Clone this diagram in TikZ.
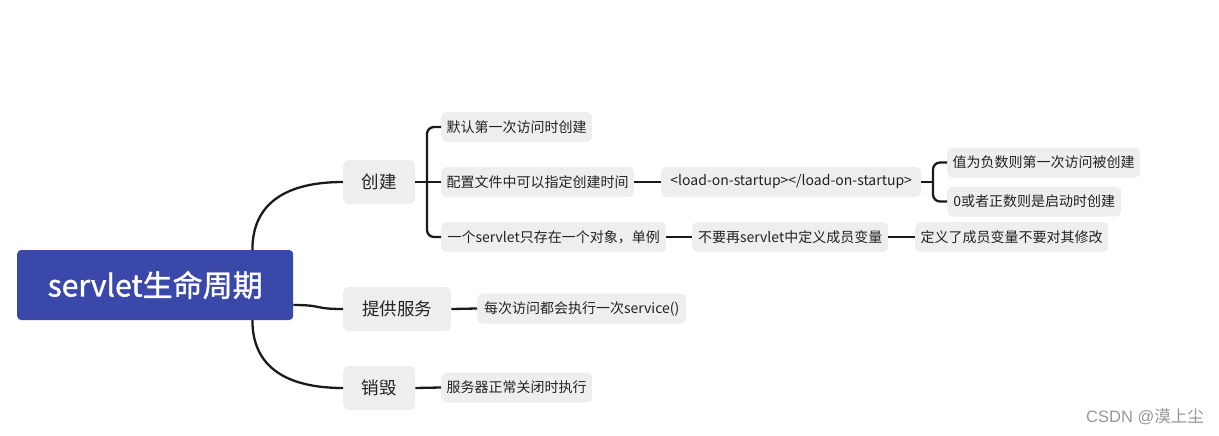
\documentclass[tikz,border=0pt]{standalone}
\usepackage{fontspec}
\newfontfamily\cjk{Noto Sans CJK SC}
\newfontfamily\cjkheavy{Noto Sans CJK SC}[FakeBold=1.2]
\newfontfamily\wmsans{Liberation Sans}
\definecolor{rootblue}{RGB}{58,72,170}
\definecolor{boxgray}{RGB}{238,238,238}
\definecolor{txt}{RGB}{34,34,34}
\definecolor{conncol}{RGB}{26,26,26}
\definecolor{wm}{RGB}{150,150,150}
\tikzset{
  rootbox/.style={fill=rootblue, rounded corners=4pt, inner sep=0pt, anchor=west,
    minimum height=70pt, text=white, font=\cjkheavy\fontsize{30}{34}\selectfont},
  mainbox/.style={fill=boxgray, rounded corners=6pt, inner sep=0pt, anchor=west,
    minimum height=44pt, text=txt, font=\cjk\fontsize{17.5}{20}\selectfont},
  leafbox/.style={fill=boxgray, rounded corners=6pt, inner sep=0pt, anchor=west,
    minimum height=30pt, text=txt, font=\cjk\fontsize{14}{16}\selectfont},
  conn/.style={draw=conncol, line width=2.3pt},
  bracket/.style={conn, rounded corners=7pt}
}
\begin{document}
\begin{tikzpicture}[x=1pt,y=-1pt]
\useasboundingbox (0,0) rectangle (1219,436);
% root
\node[rootbox, minimum width=276pt] (root) at (17,285) {servlet生命周期};
% level 1
\node[mainbox, minimum width=72pt]  (c1) at (343,182) {创建};
\node[mainbox, minimum width=108pt] (c2) at (343,309) {提供服务};
\node[mainbox, minimum width=72pt]  (c3) at (343,388) {销毁};
% level 2
\node[leafbox, minimum width=151pt] (l1a) at (441,127) {默认第一次访问时创建};
\node[leafbox, minimum width=193pt] (l1b) at (441,182) {配置文件中可以指定创建时间};
\node[leafbox, minimum width=225pt] (l1c) at (441,237) {一个servlet只存在一个对象，单例};
\node[leafbox, minimum width=260pt] (l2)  at (661,182) {<load-on-startup></load-on-startup>};
\node[leafbox, minimum width=193pt] (l3a) at (947,162.5) {值为负数则第一次访问被创建};
\node[leafbox, minimum width=174pt] (l3b) at (947,201.5) {0或者正数则是启动时创建};
\node[leafbox, minimum width=196pt] (l2c) at (692,237) {不要再servlet中定义成员变量};
\node[leafbox, minimum width=193pt] (l3c) at (915,237) {定义了成员变量不要对其修改};
\node[leafbox, minimum width=209pt] (l2s) at (477,308.5) {每次访问都会执行一次service()};
\node[leafbox, minimum width=151pt] (l2d) at (441,387.5) {服务器正常关闭时执行};
% watermark
\node[anchor=east, inner sep=0pt, text=wm, font=\wmsans\fontsize{16.5}{19}\selectfont] (wmark) at (1204,417) {CSDN @{\cjk 漠上尘}};
% connectors root -> level 1
\draw[conn] ([xshift=-41pt]root.north east) .. controls +(0,-48) and +(-55,0) .. (c1.west);
\draw[conn] ([yshift=-20pt]root.east) .. controls +(30,0) and +(-30,0) .. (c2.west);
\draw[conn] ([xshift=-41pt]root.south east) .. controls +(0,48) and +(-55,0) .. (c3.west);
% 创建 children
\coordinate (j1) at (427,182);
\draw[conn] (c1.east) -- (l1b.west);
\draw[bracket] (l1a.west) -| (j1) |- (l1c.west);
\draw[conn] (l1b.east) -- (l2.west);
% load-on-startup children
\coordinate (j2) at (933,182);
\draw[conn] (l2.east) -- (j2);
\draw[bracket] (l3a.west) -| (j2) |- (l3b.west);
% chain
\draw[conn] (l1c.east) -- (l2c.west);
\draw[conn] (l2c.east) -- (l3c.west);
\draw[conn] (c2.east) -- (l2s.west);
\draw[conn] (c3.east) -- (l2d.west);
\end{tikzpicture}
\end{document}
